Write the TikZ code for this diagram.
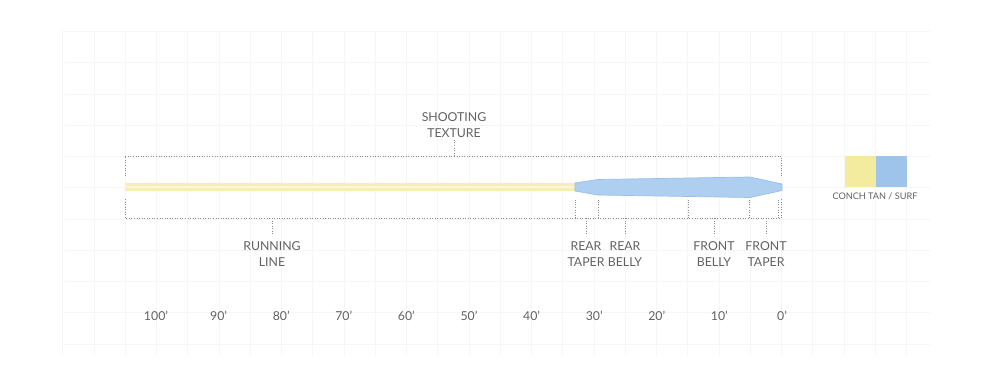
\documentclass[tikz,border=0pt]{standalone}
\usepackage{fontspec}
\setmainfont{Lato}
\definecolor{txt}{HTML}{626262}
\definecolor{dotc}{HTML}{8A8A8A}
\definecolor{gridc}{HTML}{F6F6F6}
\definecolor{tan}{HTML}{F5EFB3}
\definecolor{tanlt}{HTML}{FAF6D6}
\definecolor{surf}{HTML}{AFCFF1}
\definecolor{surfedge}{HTML}{98BFEA}
\definecolor{legtan}{HTML}{F3EB9E}
\definecolor{legsurf}{HTML}{9EC4EC}
\begin{document}
\begin{tikzpicture}[x=0.02cm,y=-0.02cm,
  dotline/.style={dotc,densely dotted,line width=0.45pt},
  lbl/.style={text=txt,font=\fontsize{7}{9.07}\selectfont,align=center,inner sep=0pt},
  dist/.style={text=txt,font=\fontsize{7}{8}\selectfont,inner sep=0pt},
  leg/.style={text=txt,font=\fontsize{5.2}{6}\selectfont,inner sep=0pt}]
\useasboundingbox (0,0) rectangle (1000,375);
\fill[white] (0,0) rectangle (1000,375);
% faint grid
\foreach \k in {-2,...,25} \draw[gridc,line width=0.25pt] ({125+31.25*\k},30) -- ({125+31.25*\k},355);
\foreach \k in {-3,...,7} \draw[gridc,line width=0.25pt] (65,{125+31.25*\k}) -- (930,{125+31.25*\k});
% top bracket
\coordinate (tl) at (125,176);
\coordinate (tlc) at (125,156);
\coordinate (trc) at (781,156);
\coordinate (tr) at (781,176);
\draw[dotline] (tl) -- (tlc) -- (trc) -- (tr);
\node[lbl] (shoot) at (454,125) {SHOOTING\\TEXTURE};
\coordinate (shtick) at (454,156);
\draw[dotline] (shtick) -- ++(0,-16);
% running line
\fill[tan] (125,183) rectangle (580,191);
\fill[tanlt] (125,186) rectangle (580,188);
% head
\path[fill=surf,draw=surfedge,line width=0.4pt]
  (575,183) -- (598,179.5) -- (750,177) -- (782,184) -- (782,190.5) -- (750,197.5) -- (598,195) -- (575,191) -- cycle;
% bottom bracket
\coordinate (bl) at (125,199);
\coordinate (blc) at (125,218);
\coordinate (brc) at (781,218);
\coordinate (br) at (781,199);
\draw[dotline] (bl) -- (blc) -- (brc) -- (br);
\foreach \x in {575,598,688,749,778} \draw[dotline] (\x,218) -- (\x,200);
% labels
\node[lbl] (run) at (272,254) {RUNNING\\LINE};
\node[lbl] (rtaper) at (586,254) {REAR\\TAPER};
\node[lbl] (rbelly) at (625,254) {REAR\\BELLY};
\node[lbl] (fbelly) at (714,254) {FRONT\\BELLY};
\node[lbl] (ftaper) at (766,254) {FRONT\\TAPER};
\foreach \n in {run,rtaper,rbelly,fbelly,ftaper}
  \draw[dotline] (\n.north |- brc) -- ++(0,17);
% distance scale
\foreach \d [count=\i from 0] in {100,90,80,70,60,50,40,30,20,10,0}
  \node[dist] (d\d) at ({156+62.6*\i},316) {\d’};
% legend
\node[fill=legtan,minimum width=31*0.02cm,minimum height=31*0.02cm,inner sep=0pt] (lt) at (860,171.5) {};
\node[fill=legsurf,minimum width=31*0.02cm,minimum height=31*0.02cm,inner sep=0pt,anchor=west] (ls) at (lt.east) {};
\node[leg] (legtxt) at (875,196.5) {CONCH TAN / SURF};
\end{tikzpicture}
\end{document}
